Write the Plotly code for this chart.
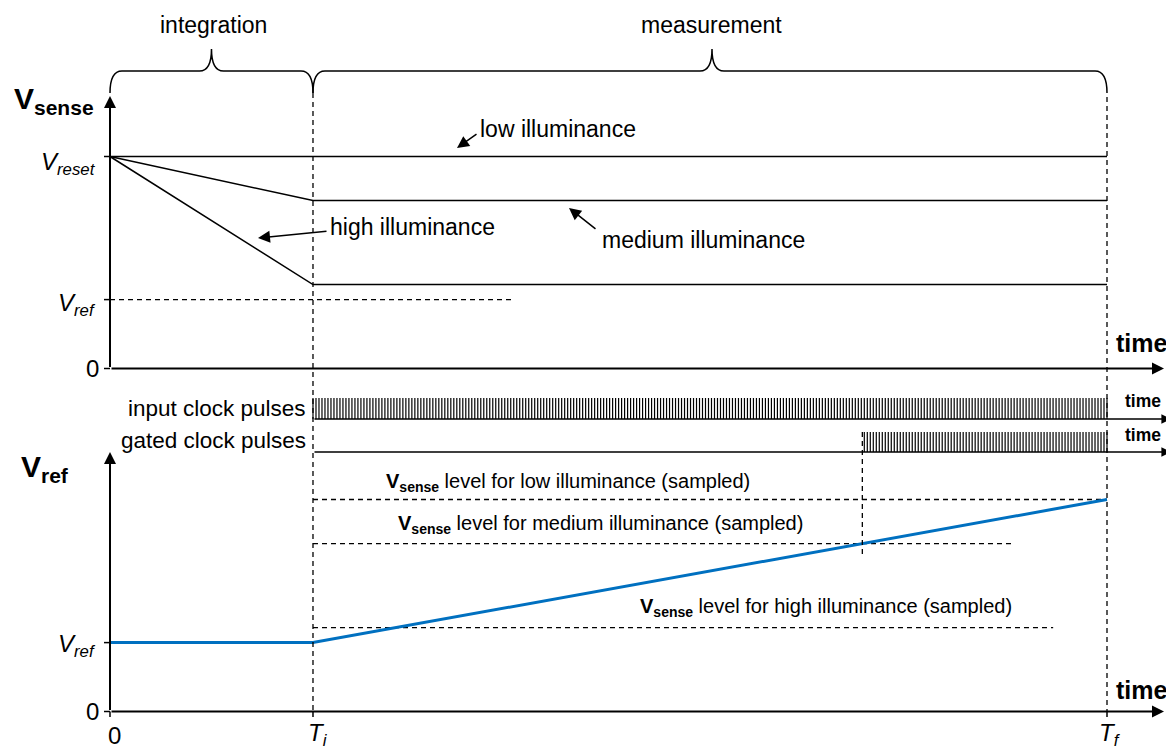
import numpy as np
import plotly.graph_objects as go

# ---------------- data (conceptual units) ----------------
phase_names = ["integration", "measurement"]
t_marks = [0.0, 0.2036, 1.0]            # 0, Ti, Tf  (time, Tf = 1)
t_labels = ["0", "<i>T<sub>i</sub></i>", "<i>T<sub>f</sub></i>"]

v_reset = 1.0                            # V_reset
v_levels = {"low": 1.0, "medium": 0.792, "high": 0.396}   # V_sense at Ti
v_ref = 0.325                            # V_ref
v_tick_labels_top = ["0", "<i>V<sub>ref</sub></i>", "<i>V<sub>reset</sub></i>"]
v_tick_labels_bot = ["0", "<i>V<sub>ref</sub></i>"]

vref_dash_end = 0.406                    # end time of V_ref dashed guide (top)
sampled_dash_end = {"low": 1.0, "medium": 0.906, "high": 0.946}
n_clock_pulses = 265                     # input clock pulses between Ti and Tf

# ---------------- geometry (pixels, reference-image coordinates) ----------------
W, H = 1174, 751
OFF = 8                                  # default page margin of the html body
FW, FH = W - OFF, H - OFF
FONT = "Liberation Sans, Arial, Helvetica, sans-serif"
X0PX, XS = 110.0, 997.0
Y0TOP, Y0BOT, VS = 368.5, 711.5, 212.0

def tx(px):  return (px - X0PX) / XS
def vt(py):  return (Y0TOP - py) / VS
def vb(py):  return (Y0BOT - py) / VS
def pxp(px): return (px - OFF) / FW
def pyp(py): return 1 - (py - OFF) / FH

T0, Ti, Tf = t_marks

fig = go.Figure()
BLK = "black"

# ---------------- top panel: V_sense curves ----------------
fig.add_trace(go.Scatter(x=[T0, Tf], y=[v_reset, v_levels["low"]], mode="lines",
                         line=dict(color=BLK, width=1.5), hoverinfo="skip"))
for k in ["medium", "high"]:
    fig.add_trace(go.Scatter(x=[T0, Ti, Tf], y=[v_reset, v_levels[k], v_levels[k]], mode="lines",
                             line=dict(color=BLK, width=1.5), hoverinfo="skip"))
# V_ref dashed guide
fig.add_trace(go.Scatter(x=[T0, vref_dash_end], y=[v_ref, v_ref], mode="lines",
                         line=dict(color=BLK, width=1.3, dash="5px,4px"), hoverinfo="skip"))

# ---------------- bottom panel ----------------
for k in ["low", "medium", "high"]:
    fig.add_trace(go.Scatter(x=[Ti, sampled_dash_end[k]], y=[v_levels[k], v_levels[k]], mode="lines",
                             yaxis="y2", line=dict(color=BLK, width=1.3, dash="5px,4px"), hoverinfo="skip"))
# ramp
fig.add_trace(go.Scatter(x=[T0, Ti, Tf], y=[v_ref, v_ref, v_reset], mode="lines", yaxis="y2",
                         line=dict(color="#0070C0", width=3), hoverinfo="skip"))

# gate time: ramp crosses medium level
t_gate = Ti + (v_levels["medium"] - v_ref) / (v_reset - v_ref) * (Tf - Ti)

# clock pulses
period = (Tf - Ti) / n_clock_pulses
pulse_t = Ti + period * np.arange(n_clock_pulses + 1)
in_base, in_top = vb(419), vb(398)
g_base, g_top = vb(452), vb(432)

def pulses(ts, b, t):
    xs, ys = [], []
    for p in ts:
        xs += [p, p, None]
        ys += [b, t, None]
    return xs, ys

xs, ys = pulses(pulse_t, in_base, in_top)
fig.add_trace(go.Scatter(x=xs, y=ys, mode="lines", yaxis="y2", line=dict(color=BLK, width=1.2),
                         hoverinfo="skip"))
xs, ys = pulses(pulse_t[pulse_t >= t_gate], g_base, g_top)
fig.add_trace(go.Scatter(x=xs, y=ys, mode="lines", yaxis="y2", line=dict(color=BLK, width=1.2),
                         hoverinfo="skip"))

shapes = []
annos = []

def arrow(x, y, axv, ayv, yref="y", width=2, size=1.2, head=2):
    annos.append(dict(x=x, y=y, ax=axv, ay=ayv, xref="x", yref=yref, axref="x", ayref=yref,
                      text="", showarrow=True, arrowhead=head, arrowsize=size, arrowwidth=width,
                      arrowcolor=BLK, standoff=0, startstandoff=0))

def parrow(tipx, tipy, tailx, taily, width=1.5, size=1.6, head=2):
    annos.append(dict(x=pxp(tipx), y=pyp(tipy), xref="paper", yref="paper",
                      ax=tailx - tipx, ay=taily - tipy, axref="pixel", ayref="pixel",
                      text="", showarrow=True, arrowhead=head, arrowsize=size, arrowwidth=width,
                      arrowcolor=BLK, standoff=0, startstandoff=0))

# axes
arrow(T0, vt(96), T0, 0)                         # top vertical
arrow(tx(1164), 0, T0, 0)                        # top horizontal
arrow(T0, vb(452), T0, 0, yref="y2")             # bottom vertical
arrow(tx(1164), 0, T0, 0, yref="y2")             # bottom horizontal
arrow(tx(1171), in_base, Ti, in_base, yref="y2", width=1.6)
arrow(tx(1171), g_base, Ti, g_base, yref="y2", width=1.6)

# tick marks
for v in [0, v_ref, v_reset]:
    shapes.append(dict(type="line", xref="x", yref="y", x0=tx(104), x1=T0, y0=v, y1=v,
                       line=dict(color=BLK, width=1.5)))
for v in [0, v_ref]:
    shapes.append(dict(type="line", xref="x", yref="y2", x0=tx(104), x1=T0, y0=v, y1=v,
                       line=dict(color=BLK, width=1.5)))
for t in t_marks:
    shapes.append(dict(type="line", xref="x", yref="y2", x0=t, x1=t, y0=0, y1=vb(717),
                       line=dict(color=BLK, width=1.5)))

# vertical dashed guides
for t, top in [(Ti, 93), (Tf, 97)]:
    shapes.append(dict(type="line", xref="x", yref="paper", x0=t, x1=t, y0=pyp(top), y1=pyp(711),
                       line=dict(color=BLK, width=1.3, dash="5px,4px")))
shapes.append(dict(type="line", xref="x", yref="y2", x0=t_gate, x1=t_gate, y0=g_top, y1=vb(556),
                   line=dict(color=BLK, width=1.3, dash="5px,4px")))

# braces
def brace(xa, xb, xm, yh, ytip, yend, r=0.012):
    p = (f"M {xa},{yend} Q {xa},{yh} {xa + r},{yh} L {xm - r},{yh} "
         f"Q {xm},{yh} {xm},{ytip} Q {xm},{yh} {xm + r},{yh} L {xb - r},{yh} "
         f"Q {xb},{yh} {xb},{yend}")
    shapes.append(dict(type="path", xref="x", yref="y", path=p, line=dict(color=BLK, width=1.5)))

brace(T0, Ti, (T0 + Ti) / 2, vt(71), vt(49), vt(93))
brace(Ti, Tf, tx(712), vt(71), vt(49), vt(93))

def text(s, px, py, size, xanchor="center", yanchor="middle", bold=False):
    if bold:
        s = f"<b>{s}</b>"
    annos.append(dict(text=s, x=pxp(px), y=pyp(py), xref="paper", yref="paper", showarrow=False,
                      xanchor=xanchor, yanchor=yanchor, font=dict(size=size, color=BLK, family=FONT)))

text(phase_names[0], 213, 25, 23)
text(phase_names[1], 711, 25, 23)
text("V<sub>sense</sub>", 12, 101, 30, xanchor="left", bold=True)
text("V<sub>ref</sub>", 19, 468, 30, xanchor="left", bold=True)

text("low illuminance", 558, 129, 23)
text("high illuminance", 412, 227, 23)
text("medium illuminance", 703, 240, 23)
parrow(457, 148, 478, 133)
parrow(258, 238, 328, 231)
parrow(569, 208, 597, 230)

# y tick labels
text(v_tick_labels_top[2], 98, 163, 24, xanchor="right")
text(v_tick_labels_top[1], 98, 304, 24, xanchor="right")
text(v_tick_labels_top[0], 101, 368, 24, xanchor="right")
text(v_tick_labels_bot[1], 98, 645, 24, xanchor="right")
text(v_tick_labels_bot[0], 101, 711, 24, xanchor="right")
# x tick labels
text(t_labels[0], 114, 735, 24)
text(t_labels[1], 318, 734, 24)
text(t_labels[2], 1110, 734, 24)

text("time", 1142, 343, 25, bold=True)
text("time", 1142, 690, 25, bold=True)
text("time", 1143, 401, 17.5, bold=True)
text("time", 1143, 435, 17.5, bold=True)
text("input clock pulses", 308, 408, 22.5, xanchor="right")
text("gated clock pulses", 308, 440, 22.5, xanchor="right")

text("<b>V<sub>sense</sub></b> level for low illuminance (sampled)", 568, 482, 20)
text("<b>V<sub>sense</sub></b> level for medium illuminance (sampled)", 600, 524, 20)
text("<b>V<sub>sense</sub></b> level for high illuminance (sampled)", 826, 607, 20)

ax_off = dict(showgrid=False, zeroline=False, showticklabels=False, ticks="", showline=False, fixedrange=True)
fig.update_layout(
    width=FW, height=FH, margin=dict(l=0, r=0, t=0, b=0),
    paper_bgcolor="white", plot_bgcolor="white", showlegend=False,
    font=dict(family=FONT, color=BLK),
    xaxis=dict(range=[tx(OFF), tx(W)], domain=[0, 1], **ax_off),
    yaxis=dict(range=[vt(H), vt(OFF)], domain=[0, 1], **ax_off),
    yaxis2=dict(range=[vb(H), vb(OFF)], domain=[0, 1], overlaying="y", **ax_off),
    shapes=shapes, annotations=annos,
)
fig.write_html("out.html")
